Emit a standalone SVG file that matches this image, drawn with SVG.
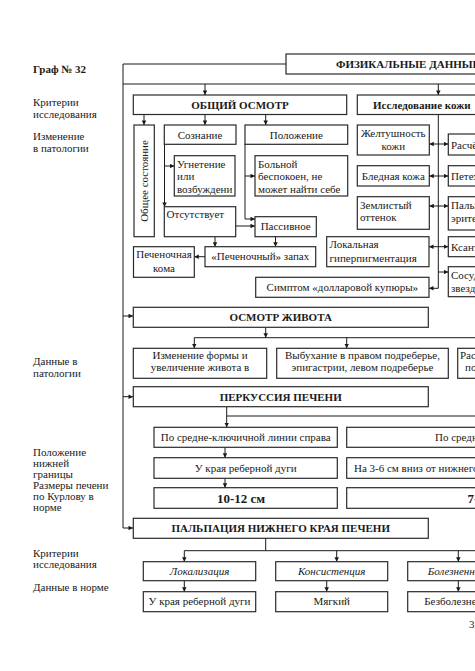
<svg xmlns="http://www.w3.org/2000/svg" width="475" height="671" viewBox="0 0 475 671">
<defs>
<marker id="ah" viewBox="0 0 6 6" refX="6" refY="3" markerWidth="5" markerHeight="4.5" orient="auto-start-reverse" markerUnits="userSpaceOnUse"><path d="M0,0L6,3L0,6z" fill="#1a1a1a"/></marker>
</defs>
<style>
rect{fill:#fff;stroke:#2a2a2a;stroke-width:1.2}
text{font-family:"Liberation Serif","Times New Roman",serif;font-size:11px;fill:#1a1a1a}
.b{font-weight:bold}
.i{font-style:italic}
.c{text-anchor:middle}
.l{stroke:#1a1a1a;stroke-width:1;fill:none}
.a{marker-end:url(#ah)}
.d{marker-start:url(#ah);marker-end:url(#ah)}
</style>
<rect x="0" y="0" width="475" height="671" style="fill:#fff;stroke:none"/>
<g id="labels">
<text x="33" y="73" class="b">Граф № 32</text>
<text x="33" y="106">Критерии</text>
<text x="33" y="117.5">исследования</text>
<text x="33" y="140">Изменение</text>
<text x="33" y="151.5">в патологии</text>
<text x="33" y="365">Данные в</text>
<text x="33" y="376.5">патологии</text>
<text x="33" y="456">Положение</text>
<text x="33" y="467">нижней</text>
<text x="33" y="478">границы</text>
<text x="33" y="489">Размеры печени</text>
<text x="33" y="500">по Курлову в</text>
<text x="33" y="511">норме</text>
<text x="33" y="557">Критерии</text>
<text x="33" y="568">исследования</text>
<text x="33" y="591">Данные в норме</text>
<text x="469" y="628">3</text>
</g>
<g id="connectors">
<path class="l" d="M123,64H286M123,84H475M123,64V528"/>
<path class="l a" d="M123,528H133"/>
<path class="l a" d="M123,316H133"/>
<path class="l a" d="M123,396.7H133"/>
<path class="l a" d="M205,84V95"/>
<path class="l a" d="M438.3,84V95"/>
<path class="l a" d="M144,114V125"/>
<path class="l a" d="M205,114V125"/>
<path class="l a" d="M265.7,114V125"/>
<path class="l a" d="M164.5,144V207"/>
<path class="l a" d="M164.5,166H174.3"/>
<path class="l a" d="M245,144V219H255"/>
<path class="l a" d="M245,176H255"/>
<path class="l a" d="M235.7,226H255"/>
<path class="l a" d="M215,236.7V246.7"/>
<path class="l a" d="M275.5,236.7V246.7"/>
<path class="l a" d="M205,256.7H194.3"/>
<path class="l" d="M438.3,114V288.3"/>
<path class="l d" d="M429.3,144H448.3"/>
<path class="l d" d="M429.3,176H448.3"/>
<path class="l d" d="M429.3,206H448.3"/>
<path class="l d" d="M429,246.7H448.3"/>
<path class="l a" d="M438.3,272H448.3"/>
<path class="l a" d="M438.3,288.3H429"/>
<path class="l a" d="M265.7,327.3V337.7"/>
<path class="l" d="M194.3,337.7H475"/>
<path class="l a" d="M194.3,337.7V348.3"/>
<path class="l a" d="M346.7,337.7V348.3"/>
<path class="l a" d="M226.7,406.7V427.3"/>
<path class="l" d="M226.7,416H475"/>
<path class="l a" d="M225,447.3V457.7"/>
<path class="l a" d="M225,478.3V487.7"/>
<path class="l" d="M265.7,538.3V550.7M184.3,550.7H475"/>
<path class="l a" d="M184.3,550.7V561.7"/>
<path class="l a" d="M336.7,550.7V561.7"/>
<path class="l a" d="M458.3,550.7V561.7"/>
<path class="l a" d="M184.3,580.7V591.7"/>
<path class="l a" d="M326.7,580.7V591.7"/>
<path class="l a" d="M458.3,580.7V591.7"/>
</g>
<g id="n-fiz"><rect x="286" y="54" width="200" height="20"/><text x="336" y="68" class="b">ФИЗИКАЛЬНЫЕ ДАННЫЕ</text></g>
<g id="n-obsh"><rect x="133.3" y="95" width="213.4" height="19.5"/><text x="240" y="108.5" class="b c">ОБЩИЙ ОСМОТР</text></g>
<g id="n-kozha"><rect x="357.3" y="95" width="130" height="19.5"/><text x="373" y="108.5" class="b">Исследование кожи</text></g>
<g id="n-obshee"><rect x="134" y="125" width="20.3" height="111.7"/><text transform="translate(148,181) rotate(-90)" class="c">Общее состояние</text></g>
<g id="n-soznanie"><rect x="164.3" y="125" width="71.7" height="19.3"/><text x="200" y="138.5" class="c">Сознание</text></g>
<g id="n-polozhenie"><rect x="245" y="125" width="102.7" height="19.3"/><text x="296.3" y="138.5" class="c">Положение</text></g>
<g id="n-ugnet"><rect x="174.3" y="155.7" width="60.7" height="40.3"/><text x="177" y="167.5">Угнетение</text><text x="177" y="180">или</text><text x="177" y="193">возбуждени</text></g>
<g id="n-bolnoy"><rect x="255" y="155.7" width="92.7" height="40.3"/><text x="258" y="167.5">Больной</text><text x="258" y="180">беспокоен, не</text><text x="258" y="192.7">может найти себе</text></g>
<g id="n-otsut"><rect x="164.3" y="206.7" width="71.4" height="30"/><text x="166.5" y="217.5">Отсутствует</text></g>
<g id="n-passiv"><rect x="255" y="216.7" width="61.3" height="20"/><text x="285.7" y="230" class="c">Пассивное</text></g>
<g id="n-pechkoma"><rect x="133.5" y="246.7" width="60.8" height="30.6"/><text x="164" y="258" class="c">Печеночная</text><text x="164" y="271.5" class="c">кома</text></g>
<g id="n-zapah"><rect x="205" y="246.7" width="110.7" height="20"/><text x="260.3" y="260" class="c">«Печеночный» запах</text></g>
<g id="n-zhelt"><rect x="357.3" y="125" width="72" height="30"/><text x="393.3" y="137" class="c">Желтушность</text><text x="393.3" y="150" class="c">кожи</text></g>
<g id="n-bled"><rect x="357.3" y="165.7" width="72" height="20.3"/><text x="393.3" y="179.5" class="c">Бледная кожа</text></g>
<g id="n-zeml"><rect x="357.3" y="196.7" width="72" height="32.6"/><text x="360" y="208.5">Землистый</text><text x="360" y="221">оттенок</text></g>
<g id="n-lokal"><rect x="326.7" y="236.7" width="102.3" height="30"/><text x="329.5" y="248">Локальная</text><text x="329.5" y="261.5">гиперпигментация</text></g>
<g id="n-dollar"><rect x="255.7" y="277.3" width="173.3" height="20"/><text x="342.3" y="291" class="c">Симптом «долларовой купюры»</text></g>
<g id="n-raschyo"><rect x="448.3" y="134" width="40" height="21"/><text x="451" y="148.5">Расчё</text></g>
<g id="n-petehii"><rect x="448.3" y="165.7" width="40" height="20.3"/><text x="451" y="179.5">Петех</text></g>
<g id="n-palm"><rect x="448.3" y="196.7" width="40" height="33.3"/><text x="451" y="208.5">Пальм</text><text x="451" y="222">эрите</text></g>
<g id="n-ksant"><rect x="448.3" y="236.7" width="40" height="20"/><text x="451" y="250.5">Ксант</text></g>
<g id="n-sosud"><rect x="448.3" y="266.7" width="40" height="30"/><text x="451" y="279">Сосуд</text><text x="451" y="292">звезд</text></g>
<g id="n-zhivot"><rect x="133.3" y="307.3" width="295" height="20"/><text x="280.7" y="321" class="b c">ОСМОТР ЖИВОТА</text></g>
<g id="n-izm"><rect x="133.3" y="348.3" width="133.4" height="30"/><text x="200" y="359" class="c">Изменение формы и</text><text x="200" y="370.5" class="c">увеличение живота в</text></g>
<g id="n-vybuh"><rect x="276.7" y="348.3" width="171.6" height="30"/><text x="362.5" y="359" class="c">Выбухание в правом подреберье,</text><text x="362.5" y="370.5" class="c">эпигастрии, левом подреберье</text></g>
<g id="n-rash"><rect x="457.7" y="348.3" width="40" height="30"/><text x="460" y="359">Расш</text><text x="465" y="370.5">под</text></g>
<g id="n-perk"><rect x="133.3" y="386.7" width="295" height="20"/><text x="280.7" y="400.5" class="b c">ПЕРКУССИЯ ПЕЧЕНИ</text></g>
<g id="n-sprava"><rect x="154" y="427.3" width="183.3" height="20"/><text x="245.7" y="441" class="c">По средне-ключичной линии справа</text></g>
<g id="n-sleva"><rect x="346.7" y="427.3" width="140" height="20"/><text x="435" y="441">По средне</text></g>
<g id="n-ukraya1"><rect x="154" y="457.7" width="183.3" height="20.6"/><text x="245.7" y="471.5" class="c">У края реберной дуги</text></g>
<g id="n-na36"><rect x="346.7" y="457.7" width="140" height="20.6"/><text x="354" y="471.5">На 3-6 см вниз от нижнего</text></g>
<g id="n-1012"><rect x="154" y="487.7" width="183.3" height="20.6"/><text x="241" y="502.5" class="b c" style="font-size:13px">10-12 см</text></g>
<g id="n-7"><rect x="346.7" y="487.7" width="140" height="20.6"/><text x="467.5" y="502.5" class="b" style="font-size:13px">7-9</text></g>
<g id="n-palp"><rect x="133.3" y="518.3" width="295" height="20"/><text x="280.7" y="532" class="b c">ПАЛЬПАЦИЯ  НИЖНЕГО КРАЯ ПЕЧЕНИ</text></g>
<g id="n-lokaliz"><rect x="143.3" y="561.7" width="112.4" height="19"/><text x="199.5" y="575" class="i c">Локализация</text></g>
<g id="n-konsist"><rect x="275.7" y="561.7" width="112" height="19"/><text x="331.7" y="575" class="i c">Консистенция</text></g>
<g id="n-bolezn"><rect x="407.7" y="561.7" width="90" height="19"/><text x="427.7" y="575" class="i">Болезненность</text></g>
<g id="n-ukraya2"><rect x="143.3" y="591.7" width="112.4" height="20"/><text x="199.5" y="605" class="c">У края реберной дуги</text></g>
<g id="n-myagk"><rect x="275.7" y="591.7" width="112" height="20"/><text x="331.7" y="605" class="c">Мягкий</text></g>
<g id="n-bezbol"><rect x="407.7" y="591.7" width="90" height="20"/><text x="424.3" y="605">Безболезненный</text></g>
</svg>
